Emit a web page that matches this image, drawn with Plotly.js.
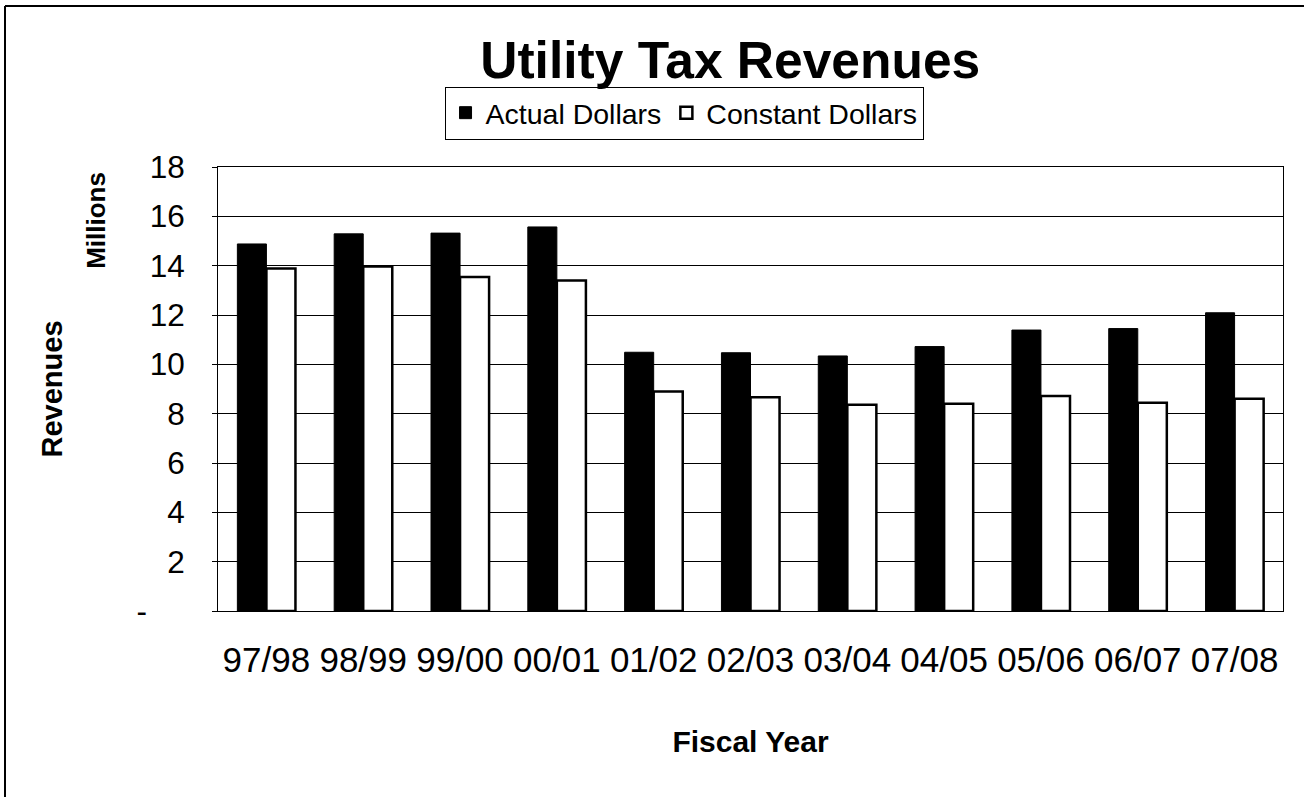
<!DOCTYPE html>
<html>
<head>
<meta charset="utf-8">
<script src="https://cdn.plot.ly/plotly-3.0.1.min.js"></script>
<style>
html,body{margin:0;padding:0;background:#fff;}
#chart{width:1304px;height:797px;}
</style>
</head>
<body>
<div id="chart"></div>
<script>
const fiscalYears = ["97/98","98/99","99/00","00/01","01/02","02/03","03/04","04/05","05/06","06/07","07/08"];
const actualDollars = [14.88, 15.29, 15.32, 15.57, 10.49, 10.47, 10.34, 10.72, 11.39, 11.45, 12.09];
const constantDollars = [13.89, 13.97, 13.54, 13.40, 8.90, 8.67, 8.36, 8.40, 8.72, 8.44, 8.60];
const yTickVals = [0, 2, 4, 6, 8, 10, 12, 14, 16, 18];
const yTickText = ["-\u2003\u2009", "2", "4", "6", "8", "10", "12", "14", "16", "18"];

const FONT = "Liberation Sans, Arial, Helvetica, sans-serif";

const traces = [
  {
    type: "bar",
    name: "Actual Dollars",
    x: fiscalYears,
    y: actualDollars,
    marker: {color: "#000000", line: {color: "#000000", width: 1}},
    hoverinfo: "x+y+name"
  },
  {
    type: "bar",
    name: "Constant Dollars",
    x: fiscalYears,
    y: constantDollars,
    marker: {color: "#ffffff", line: {color: "#000000", width: 2.5}},
    hoverinfo: "x+y+name"
  }
];

const layout = {
  width: 1304,
  height: 797,
  margin: {l: 218, r: 21, t: 167, b: 186},
  paper_bgcolor: "#ffffff",
  plot_bgcolor: "#ffffff",
  font: {family: FONT, color: "#000000"},
  barmode: "group",
  bargap: 0.4,
  bargroupgap: 0,
  showlegend: true,
  title: {
    text: "<b>Utility Tax Revenues</b>",
    font: {family: FONT, size: 51.5, color: "#000000"},
    xref: "container", x: 0.56, xanchor: "center",
    yref: "container", y: 0.925, yanchor: "middle"
  },
  legend: {
    orientation: "h",
    x: 0.4376, xanchor: "center",
    y: 1.181, yanchor: "top",
    bordercolor: "#000000",
    borderwidth: 1,
    bgcolor: "#ffffff",
    font: {family: FONT, size: 28.5, color: "#000000"},
    itemwidth: 30,
    tracegroupgap: 0
  },
  xaxis: {
    type: "category",
    showline: true, linecolor: "#000000", linewidth: 1, mirror: true,
    showgrid: false,
    ticks: "",
    ticklabelstandoff: 18,
    tickfont: {family: FONT, size: 35, color: "#000000"},
    title: {
      text: "<b>Fiscal Year</b>",
      font: {family: FONT, size: 30, color: "#000000"},
      standoff: 52
    },
    fixedrange: true
  },
  yaxis: {
    range: [0, 18],
    tickvals: yTickVals,
    ticktext: yTickText,
    showline: true, linecolor: "#000000", linewidth: 1, mirror: true,
    showgrid: true, gridcolor: "#000000", gridwidth: 1,
    zeroline: false,
    ticks: "outside", ticklen: 5, tickcolor: "#000000",
    ticklabelstandoff: 21,
    tickfont: {family: FONT, size: 31.5, color: "#000000"},
    title: {
      text: "<b>Revenues</b>",
      font: {family: FONT, size: 29, color: "#000000"},
      standoff: 65
    },
    fixedrange: true
  },
  annotations: [
    {
      text: "<b>Millions</b>",
      xref: "paper", yref: "paper",
      x: -0.114, y: 0.88,
      xanchor: "center", yanchor: "middle",
      textangle: -90,
      showarrow: false,
      font: {family: FONT, size: 26, color: "#000000"}
    }
  ],
  shapes: [
    {type: "line", xref: "paper", yref: "paper", x0: -0.2, x1: 1.0197, y0: 1.3626, y1: 1.3626,
     line: {color: "#000000", width: 2}},
    {type: "line", xref: "paper", yref: "paper", x0: -0.2, x1: -0.2, y0: 1.3626, y1: -0.42,
     line: {color: "#000000", width: 2}}
  ]
};

Plotly.newPlot("chart", traces, layout, {displayModeBar: false, staticPlot: true});
</script>
</body>
</html>
